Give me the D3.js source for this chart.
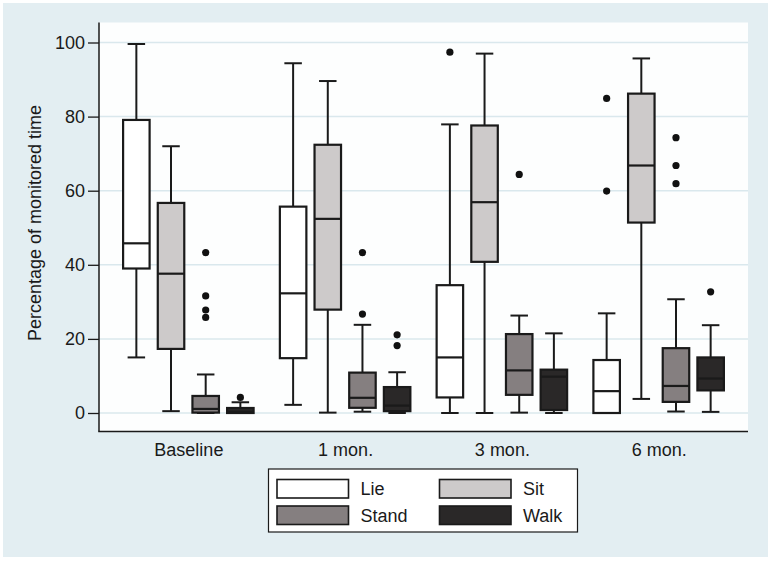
<!DOCTYPE html>
<html>
<head>
<meta charset="utf-8">
<script src="https://cdn.jsdelivr.net/npm/d3@7"></script>
<style>
  html, body { margin: 0; padding: 0; background: #ffffff; }
  svg { display: block; }
  text { font-family: "Liberation Sans", Arial, sans-serif; fill: #1a1a1a; }
</style>
</head>
<body>
<svg id="chart" width="771" height="562"></svg>
<script>
// ---- data ----
const groups = ["Baseline", "1 mon.", "3 mon.", "6 mon."];
const series = ["Lie", "Sit", "Stand", "Walk"];
const yTicks = [0, 20, 40, 60, 80, 100];
// [lower whisker, Q1, median, Q3, upper whisker] per group
const lieStats   = [[15.0, 39.0, 45.8, 79.1, 99.6], [2.2, 14.8, 32.3, 55.7, 94.4], [0.0, 4.2, 15.0, 34.5, 77.9], [0.0, 0.0, 5.9, 14.3, 26.9]];
const sitStats   = [[0.5, 17.3, 37.6, 56.7, 72.0], [0.1, 27.9, 52.4, 72.4, 89.6], [0.0, 40.8, 56.9, 77.6, 97.0], [3.8, 51.4, 66.8, 86.2, 95.7]];
const standStats = [[0.0, 0.1, 1.1, 4.6, 10.4], [0.35, 1.4, 4.1, 10.9, 23.8], [0.1, 4.9, 11.5, 21.3, 26.3], [0.4, 3.0, 7.3, 17.5, 30.7]];
const walkStats  = [[0.0, 0.0, 0.35, 1.35, 2.9], [0.0, 0.5, 2.0, 7.0, 11.0], [0.0, 0.8, 9.8, 11.7, 21.5], [0.3, 6.1, 9.3, 15.0, 23.7]];
// outliers per group
const lieOutliers   = [[], [], [97.4], [84.9, 59.9]];
const sitOutliers   = [[], [], [], []];
const standOutliers = [[43.3, 31.6, 27.8, 25.8], [43.3, 26.7], [64.4], [74.3, 66.8, 61.9]];
const walkOutliers  = [[4.2], [21.1, 18.2], [], [32.7]];
const colors = ["#ffffff", "#cdcaca", "#857f80", "#2a2828"];

const statsBySeries = [lieStats, sitStats, standStats, walkStats];
const outliersBySeries = [lieOutliers, sitOutliers, standOutliers, walkOutliers];

// ---- layout ----
const svg = d3.select("#chart");
const plot = { left: 99, right: 748, top: 22.5, bottom: 431.5 };

svg.append("rect").attr("x", 3).attr("y", 3).attr("width", 765).attr("height", 554).attr("fill", "#e3eef2");
svg.append("rect").attr("x", plot.left).attr("y", plot.top)
  .attr("width", plot.right - plot.left).attr("height", plot.bottom - plot.top).attr("fill", "#fdfefe");

const y = d3.scaleLinear().domain([0, 100]).range([413, 42.5]);
const x = d3.scalePoint().domain(groups).range([plot.left, plot.right]).padding(0.57);
const xs = d3.scalePoint().domain(series).range([-52, 52]);
const boxW = 26.5, capW = 17.5;

// gridlines
svg.append("g").selectAll("line").data(yTicks).join("line")
  .attr("x1", plot.left).attr("x2", plot.right)
  .attr("y1", d => y(d)).attr("y2", d => y(d))
  .attr("stroke", "#dae8ed").attr("stroke-width", 1.5);

// y axis
const yAxis = svg.append("g").attr("transform", `translate(${plot.left},0)`)
  .call(d3.axisLeft(y).tickValues(yTicks).tickSize(11).tickPadding(3));
yAxis.select(".domain").remove();
yAxis.selectAll(".tick line").attr("stroke", "#1a1a1a").attr("stroke-width", 1.3);
yAxis.selectAll(".tick text").attr("font-size", 18).attr("fill", "#1a1a1a")
  .attr("font-family", "'Liberation Sans', Arial, sans-serif");
svg.append("line").attr("x1", plot.left).attr("x2", plot.left).attr("y1", plot.top).attr("y2", plot.bottom)
  .attr("stroke", "#1a1a1a").attr("stroke-width", 1.5);

// x axis
const xAxis = svg.append("g").attr("transform", `translate(0,${plot.bottom})`)
  .call(d3.axisBottom(x).tickSize(0).tickPadding(12));
xAxis.select(".domain").remove();
xAxis.selectAll(".tick text").attr("font-size", 18).attr("fill", "#1a1a1a")
  .attr("font-family", "'Liberation Sans', Arial, sans-serif");
svg.append("line").attr("x1", plot.left - 0.75).attr("x2", plot.right).attr("y1", plot.bottom).attr("y2", plot.bottom)
  .attr("stroke", "#1a1a1a").attr("stroke-width", 1.5);

// y title
svg.append("text").attr("transform", "translate(41,223) rotate(-90)")
  .attr("text-anchor", "middle").attr("font-size", 18).text("Percentage of monitored time");

// boxes
const stroke = "#1a1a1a";
series.forEach((s, si) => {
  const g = svg.append("g");
  groups.forEach((grp, gi) => {
    const [lo, q1, med, q3, hi] = statsBySeries[si][gi];
    const cx = x(grp) + xs(s);
    // whiskers
    g.append("line").attr("x1", cx).attr("x2", cx).attr("y1", y(hi)).attr("y2", y(q3)).attr("stroke", stroke).attr("stroke-width", 2);
    g.append("line").attr("x1", cx).attr("x2", cx).attr("y1", y(q1)).attr("y2", y(lo)).attr("stroke", stroke).attr("stroke-width", 2);
    g.append("line").attr("x1", cx - capW / 2).attr("x2", cx + capW / 2).attr("y1", y(hi)).attr("y2", y(hi)).attr("stroke", stroke).attr("stroke-width", 2);
    g.append("line").attr("x1", cx - capW / 2).attr("x2", cx + capW / 2).attr("y1", y(lo)).attr("y2", y(lo)).attr("stroke", stroke).attr("stroke-width", 2);
    // box
    g.append("rect").attr("x", cx - boxW / 2).attr("y", y(q3)).attr("width", boxW)
      .attr("height", Math.max(y(q1) - y(q3), 0.5))
      .attr("fill", colors[si]).attr("stroke", stroke).attr("stroke-width", 2.2);
    g.append("line").attr("x1", cx - boxW / 2).attr("x2", cx + boxW / 2).attr("y1", y(med)).attr("y2", y(med))
      .attr("stroke", stroke).attr("stroke-width", 2.2);
    // outliers
    g.selectAll(null).data(outliersBySeries[si][gi]).join("circle")
      .attr("cx", cx).attr("cy", d => y(d)).attr("r", 3.6).attr("fill", "#111");
  });
});

// legend
const lg = svg.append("g");
lg.append("rect").attr("x", 268.5).attr("y", 469).attr("width", 309).attr("height", 63)
  .attr("fill", "#ffffff").attr("stroke", "#1a1a1a").attr("stroke-width", 1.2);
const legPos = [[277, 479.5], [439.5, 479.5], [277, 506], [439.5, 506]];
series.forEach((s, i) => {
  const [lx, ly] = legPos[i];
  lg.append("rect").attr("x", lx).attr("y", ly).attr("width", 71.5).attr("height", 18.5)
    .attr("fill", colors[i]).attr("stroke", stroke).attr("stroke-width", 1.6);
  lg.append("text").attr("x", lx + 83.5).attr("y", ly + 9.5).attr("dominant-baseline", "central")
    .attr("font-size", 18).text(s);
});
</script>
</body>
</html>
